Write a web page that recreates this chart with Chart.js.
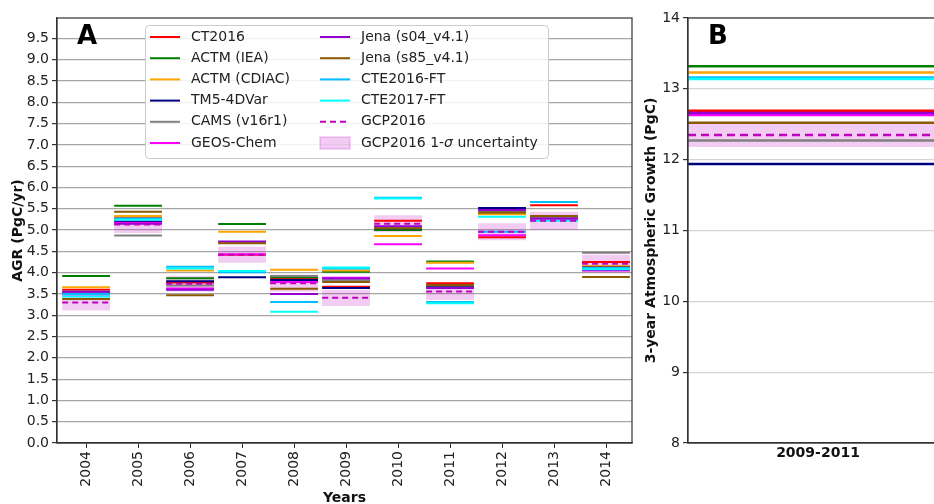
<!DOCTYPE html>
<html>
<head>
<meta charset="utf-8">
<script src="https://cdn.jsdelivr.net/npm/chart.js@4/dist/chart.umd.min.js"></script>
<style>
  html, body { margin: 0; padding: 0; background: #fff; overflow: hidden; }
  body { width: 934px; height: 504px; position: relative; }
  #chartA { position: absolute; left: 0; top: 0; }
  #chartB { position: absolute; left: 630px; top: 0; }
</style>
</head>
<body>
<canvas id="chartA" width="640" height="504"></canvas>
<canvas id="chartB" width="320" height="504"></canvas>
<script>
// panel A: annual growth rate per year (PgC/yr)
const years = ["2004", "2005", "2006", "2007", "2008", "2009", "2010", "2011", "2012", "2013", "2014"];
const ct2016    = [3.60, 5.28, 3.77, 4.42, 3.86, 3.67, 5.22, 3.75, 4.83, 5.58, 4.25];
const actmIea   = [3.92, 5.57, 3.87, 5.14, 3.89, 4.02, 5.00, 4.26, 5.39, 5.30, 4.14];
const actmCdiac = [3.66, 5.33, 4.05, 4.96, 4.07, 4.05, 4.86, 4.23, 5.37, 5.31, 4.15];
const tm5       = [3.52, 5.20, 3.80, 3.89, 3.83, 3.64, 5.04, 3.68, 5.52, 5.25, 4.12];
const cams      = [3.55, 4.87, 3.70, 4.70, 3.92, 3.82, 5.06, 3.70, 5.45, 5.28, 4.47];
const geosChem  = [3.49, 5.17, 3.63, 4.43, 3.78, 3.88, 4.67, 4.10, 4.88, 5.26, 4.05];
const jenaS04   = [3.55, 5.15, 3.60, 4.73, 3.50, 3.86, 5.09, 3.64, 5.47, 5.27, 4.06];
const jenaS85   = [3.38, 5.43, 3.47, 4.69, 3.62, 3.78, 5.04, 3.71, 5.41, 5.33, 3.90];
const cte2016   = [3.50, 5.27, 4.14, 4.01, 3.31, 4.10, 5.76, 3.31, 4.96, 5.66, 4.11];
const cte2017   = [3.44, 5.24, 4.10, 4.04, 3.08, 4.12, 5.74, 3.28, 5.31, 5.22, 4.08];
const gcp2016   = [3.30, 5.13, 3.74, 4.42, 3.75, 3.41, 5.15, 3.56, 4.96, 5.22, 4.21];
const gcpSigma  = [0.19, 0.20, 0.19, 0.19, 0.20, 0.19, 0.20, 0.20, 0.20, 0.21, 0.21];

// panel B: 3-year growth 2009-2011 (PgC)
const periodLabel = "2009-2011";
const threeYear = [12.69, 13.32, 13.23, 11.94, 12.27, 12.63, 12.66, 12.52, 13.16, 13.14];
const threeYearGcp = 12.35;
const threeYearSigma = 0.17;

const modelNames = ["CT2016", "ACTM (IEA)", "ACTM (CDIAC)", "TM5-4DVar", "CAMS (v16r1)",
  "GEOS-Chem", "Jena (s04_v4.1)", "Jena (s85_v4.1)", "CTE2016-FT", "CTE2017-FT"];
const modelSeries = [ct2016, actmIea, actmCdiac, tm5, cams, geosChem, jenaS04, jenaS85, cte2016, cte2017];
const modelColors = ["#ff0000", "#008000", "#ffa500", "#000080", "#808080",
  "#ff00ff", "#9400d3", "#8b5a00", "#00bfff", "#00ffff"];
const gcpColor = "#bf00bf";
const bandColor = "rgba(191,0,191,0.2)";

Chart.defaults.font.family = "'DejaVu Sans', sans-serif";
Chart.defaults.font.size = 14;
Chart.defaults.color = "#222";

const HW = 0.46; // half width of a year segment, in years

function segments(vals) {
  const pts = [];
  vals.forEach((v, i) => {
    pts.push({ x: i - HW, y: v }, { x: i + HW, y: v }, { x: i + 0.5, y: null });
  });
  return pts;
}

const frame = {
  id: "frame",
  afterDraw(chart) {
    const a = chart.chartArea, ctx = chart.ctx;
    ctx.save();
    ctx.strokeStyle = "#333";
    ctx.lineWidth = 1.2;
    ctx.strokeRect(a.left, a.top, a.right - a.left, a.bottom - a.top);
    ctx.fillStyle = "#000";
    ctx.font = "bold 26px 'DejaVu Sans'";
    ctx.textBaseline = "alphabetic";
    ctx.fillText(chart.options.plugins.frame.letter, a.left + 20, a.top + 26);
    ctx.restore();
  }
};

const legendBox = {
  id: "legendBox",
  afterDraw(chart) {
    const a = chart.chartArea, ctx = chart.ctx;
    const x0 = a.left + 88, y0 = a.top + 7, w = 403, h = 133;
    ctx.save();
    ctx.fillStyle = "rgba(255,255,255,0.85)";
    ctx.strokeStyle = "#cccccc";
    ctx.lineWidth = 1;
    ctx.beginPath();
    ctx.roundRect(x0 + 0.5, y0 + 0.5, w, h, 4);
    ctx.fill();
    ctx.stroke();
    const entries = modelNames.map((n, i) => ({ label: n, color: modelColors[i] }));
    entries.push({ label: "GCP2016", color: gcpColor, dash: true });
    entries.push({ label: "GCP2016 1-", color: bandColor, box: true });
    ctx.font = "14px 'DejaVu Sans'";
    ctx.textBaseline = "middle";
    entries.forEach((e, i) => {
      const col = i < 6 ? 0 : 1, row = i % 6;
      const lx = x0 + 5 + col * 170, ly = y0 + 12 + row * 21.2;
      if (e.box) {
        ctx.fillStyle = bandColor;
        ctx.fillRect(lx, ly - 6, 30, 12);
        ctx.strokeStyle = "rgba(191,0,191,0.15)";
        ctx.strokeRect(lx, ly - 6, 30, 12);
      } else {
        ctx.strokeStyle = e.color;
        ctx.lineWidth = 2;
        ctx.setLineDash(e.dash ? [6, 4] : []);
        ctx.beginPath();
        ctx.moveTo(lx, ly);
        ctx.lineTo(lx + 30, ly);
        ctx.stroke();
        ctx.setLineDash([]);
      }
      ctx.fillStyle = "#222";
      ctx.font = "14px 'DejaVu Sans'";
      ctx.fillText(e.label, lx + 41, ly);
      if (e.box) {
        let tx = lx + 41 + ctx.measureText(e.label).width;
        ctx.font = "italic 14px 'DejaVu Sans'";
        ctx.fillText("σ", tx, ly);
        tx += ctx.measureText("σ").width;
        ctx.font = "14px 'DejaVu Sans'";
        ctx.fillText(" uncertainty", tx, ly);
      }
    });
    ctx.restore();
  }
};

// ---------- panel A ----------
const dsA = [];
dsA.push({
  type: "bar",
  data: gcp2016.map((g, i) => ({ x: i, y: [g - gcpSigma[i], g + gcpSigma[i]] })),
  backgroundColor: bandColor,
  borderWidth: 0,
  barPercentage: 0.92,
  categoryPercentage: 1.0,
  order: 50
});
modelSeries.forEach((vals, i) => {
  dsA.push({
    label: modelNames[i],
    data: segments(vals),
    borderColor: modelColors[i],
    borderWidth: 2,
    pointRadius: 0,
    spanGaps: false,
    order: 20 - i
  });
});
dsA.push({
  label: "GCP2016",
  data: segments(gcp2016),
  borderColor: gcpColor,
  borderWidth: 2,
  borderDash: [6, 4],
  pointRadius: 0,
  spanGaps: false,
  order: 0
});

new Chart(document.getElementById("chartA"), {
  type: "line",
  data: { datasets: dsA },
  plugins: [frame, legendBox],
  options: {
    responsive: false,
    animation: false,
    layout: { padding: { top: 18, right: 8, bottom: 0, left: 0 } },
    plugins: { legend: { display: false }, tooltip: { enabled: false }, frame: { letter: "A" } },
    scales: {
      x: {
        type: "linear",
        min: -0.56,
        max: 10.5,
        offset: false,
        afterBuildTicks: (s) => { s.ticks = years.map((_, i) => ({ value: i })); },
        afterFit: (s) => { s.height = 61; },
        ticks: {
          callback: (v) => years[v],
          minRotation: 90, maxRotation: 90,
          padding: 3,
          color: "#222"
        },
        grid: { offset: false, drawOnChartArea: false, drawTicks: true, tickLength: 5, tickColor: "#333" },
        border: { color: "#333", width: 1.2 },
        title: { display: true, text: "Years", font: { weight: "bold", size: 14 }, padding: { top: 0, bottom: -3 }, color: "#111" }
      },
      y: {
        min: 0,
        max: 9.98,
        afterBuildTicks: (s) => { s.ticks = s.ticks.filter(t => Math.abs(t.value * 2 - Math.round(t.value * 2)) < 1e-6); },
        afterFit: (s) => { s.width = 57; },
        ticks: { stepSize: 0.5, callback: (v) => v.toFixed(1), padding: 3, color: "#222" },
        grid: { color: "#a6a6a6", lineWidth: 1.2, tickLength: 5, tickColor: "#333" },
        border: { color: "#333", width: 1.2 },
        title: { display: true, text: "AGR (PgC/yr)", font: { weight: "bold", size: 14 }, padding: { top: 10, bottom: 0 }, color: "#111" }
      }
    }
  }
});

// ---------- panel B ----------
const dsB = [];
dsB.push({
  data: [{ x: 0, y: threeYearGcp + threeYearSigma }, { x: 1, y: threeYearGcp + threeYearSigma }],
  borderWidth: 0,
  borderColor: "rgba(0,0,0,0)",
  backgroundColor: bandColor,
  fill: { value: threeYearGcp - threeYearSigma },
  pointRadius: 0,
  order: 50
});
threeYear.forEach((v, i) => {
  dsB.push({
    label: modelNames[i],
    data: [{ x: 0, y: v }, { x: 1, y: v }],
    borderColor: modelColors[i],
    borderWidth: 2.5,
    pointRadius: 0,
    order: 20 - i
  });
});
dsB.push({
  label: "GCP2016",
  data: [{ x: 0, y: threeYearGcp }, { x: 1, y: threeYearGcp }],
  borderColor: gcpColor,
  borderWidth: 2.5,
  borderDash: [8, 5],
  pointRadius: 0,
  order: 0
});

new Chart(document.getElementById("chartB"), {
  type: "line",
  data: { datasets: dsB },
  plugins: [frame],
  options: {
    responsive: false,
    animation: false,
    layout: { padding: { top: 18, right: 2, bottom: 0, left: 0 } },
    plugins: { legend: { display: false }, tooltip: { enabled: false }, filler: { propagate: false }, frame: { letter: "B" } },
    scales: {
      x: {
        type: "linear",
        min: 0,
        max: 1,
        offset: false,
        afterBuildTicks: (s) => { s.ticks = [{ value: 0.5 }]; },
        afterFit: (s) => { s.height = 61; },
        ticks: { callback: () => periodLabel, maxRotation: 0, font: { weight: "bold", size: 14 }, padding: 2, color: "#111" },
        grid: { drawOnChartArea: false, drawTicks: false },
        border: { color: "#333", width: 1.2 }
      },
      y: {
        min: 8,
        max: 14,
        afterFit: (s) => { s.width = 58; },
        ticks: { stepSize: 1, padding: 3, color: "#222" },
        grid: { color: "#d4d4d4", lineWidth: 1.2, tickLength: 5, tickColor: "#333" },
        border: { color: "#333", width: 1.2 },
        title: { display: true, text: "3-year Atmospheric Growth (PgC)", font: { weight: "bold", size: 14 }, padding: { top: 13, bottom: 0 }, color: "#111" }
      }
    }
  }
});
</script>
</body>
</html>
